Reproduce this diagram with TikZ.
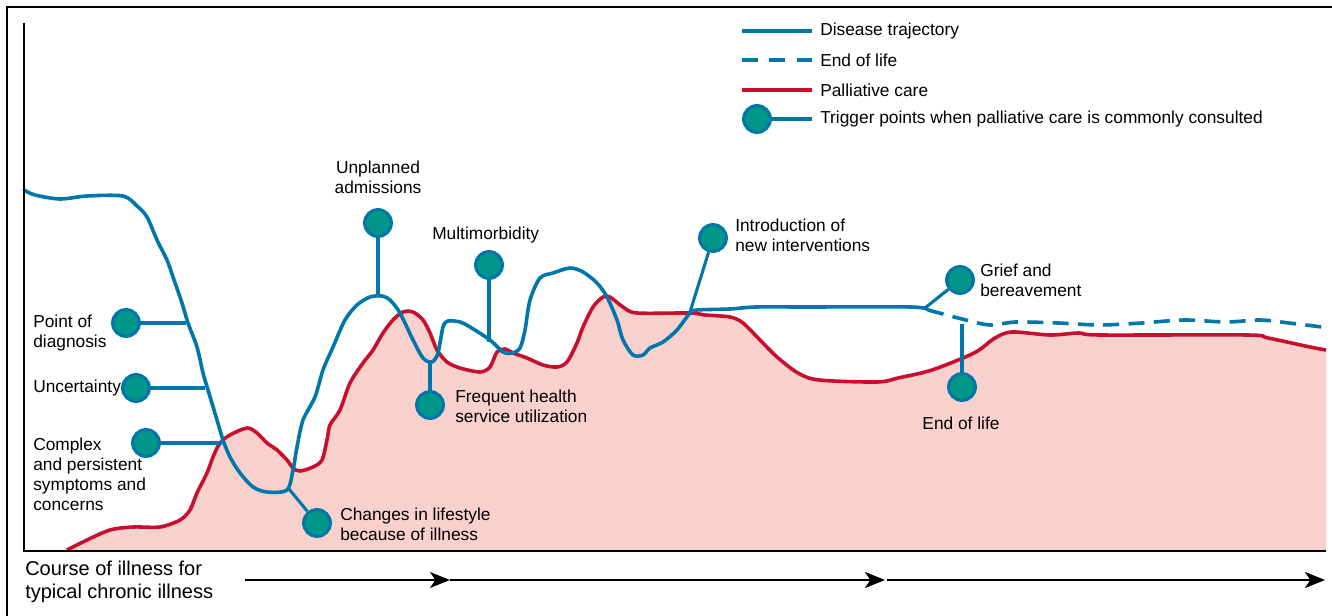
\documentclass[tikz,border=0pt]{standalone}
\usepackage{fontspec}
\setmainfont{Liberation Sans}
\usetikzlibrary{arrows.meta,calc}
\definecolor{trajblue}{RGB}{0,119,170}
\definecolor{trigteal}{RGB}{0,150,136}
\definecolor{palred}{RGB}{200,16,46}
\definecolor{palpink}{RGB}{248,209,205}
\begin{document}
\begin{tikzpicture}[x=0.75pt,y=-0.75pt,
    every node/.style={inner sep=0pt},
    lbl/.style={font=\fontsize{13}{15}\selectfont, align=left},
    course/.style={font=\fontsize{15}{17.3}\selectfont, align=left},
    traj/.style={trajblue, line width=2.7pt, line cap=round, line join=round},
    eol/.style={trajblue, line width=2.7pt, dash pattern=on 12pt off 7pt},
    pal/.style={palred, line width=2.7pt, line join=round},
    trig/.style={circle, draw=trajblue, fill=trigteal, line width=2.4pt, minimum size=20pt},
    stem/.style={trajblue, line width=2.3pt},
    axarrow/.style={black, line width=1.5pt, -{Stealth[length=15pt,width=12pt,inset=4pt]}}]
\useasboundingbox (0,0) rectangle (1332,616);
% frame and palliative care area
\draw [black, line width=1.1pt] (7,616) -- (7,7) -- (1332,7);
\fill [palpink] plot [smooth] coordinates {(67,550) (87,540) (110,530) (133,527) (160,527) (180,520) (190,510) (197,493) (207,473) (213,457) (220,443) (230,435) (247,428) (257,433) (267,443) (277,450) (287,460) (293,468) (300,471) (313,467) (322,460) (327,440) (330,425) (340,410) (350,383) (363,363) (373,350) (383,333) (393,320) (403,312) (413,312) (423,320) (430,333) (437,350) (447,362) (460,368) (480,372) (490,367) (497,352) (505,349) (513,353) (527,358) (543,365) (557,367) (567,362) (577,343) (583,327) (593,307) (603,297) (610,297) (623,307) (637,313) (690,313) (705,315) (730,317) (743,323) (760,340) (777,357) (798,373) (819,380) (877,382) (898,378) (932,370) (974,353) (995,338) (1012,332) (1050,335) (1079,333) (1100,335) (1247,335) (1268,338) (1310,347) (1326,350)} -- (1326,551) -- (67,551) -- cycle;
\draw [pal] plot [smooth] coordinates {(67,550) (87,540) (110,530) (133,527) (160,527) (180,520) (190,510) (197,493) (207,473) (213,457) (220,443) (230,435) (247,428) (257,433) (267,443) (277,450) (287,460) (293,468) (300,471) (313,467) (322,460) (327,440) (330,425) (340,410) (350,383) (363,363) (373,350) (383,333) (393,320) (403,312) (413,312) (423,320) (430,333) (437,350) (447,362) (460,368) (480,372) (490,367) (497,352) (505,349) (513,353) (527,358) (543,365) (557,367) (567,362) (577,343) (583,327) (593,307) (603,297) (610,297) (623,307) (637,313) (690,313) (705,315) (730,317) (743,323) (760,340) (777,357) (798,373) (819,380) (877,382) (898,378) (932,370) (974,353) (995,338) (1012,332) (1050,335) (1079,333) (1100,335) (1247,335) (1268,338) (1310,347) (1326,350)};
% disease trajectory
\draw [traj] plot [smooth] coordinates {(24,190) (35,195) (60,199) (87,196) (123,196) (137,206) (147,217) (157,240) (167,260) (173,277) (182,303) (188,323) (197,347) (203,373) (208,390) (217,420) (223,440) (230,457) (240,473) (253,487) (267,492) (287,490) (293,470) (297,447) (303,420) (315,397) (323,370) (333,347) (345,320) (357,305) (370,297) (382,296) (390,300) (400,313) (413,340) (423,358) (432,362) (438,353) (443,327) (448,321) (460,322) (470,327) (490,340) (503,352) (512,353) (520,348) (525,330) (530,300) (540,278) (553,273) (570,268) (583,272) (597,283) (607,297) (617,320) (623,340) (633,355) (643,355) (650,348) (663,342) (677,330) (690,313) (697,310) (730,309) (756,307) (806,307) (911,307) (928,310)};
\draw [eol] plot [smooth] coordinates {(928,310) (966,320) (990,325) (1016,322) (1058,323) (1100,325) (1142,323) (1184,320) (1226,322) (1260,320) (1289,323) (1322,327)};
% axes
\draw [black, line width=1.5pt] (24,23) -- (24,551) -- (1326,551);
% trigger points
\coordinate (diagEnd) at (186,323);
\coordinate (uncEnd) at (205,388);
\coordinate (complEnd) at (222,443);
\coordinate (lifeEnd) at (289,489);
\coordinate (unplEnd) at (378,296);
\coordinate (freqEnd) at (430,362);
\coordinate (multiEnd) at (489,342);
\coordinate (introEnd) at (690,312);
\coordinate (griefEnd) at (925,308);
\coordinate (eolEnd) at (962,324);
\node [trig] (diag) at (126,323) {};
\node [trig] (unc) at (136,388) {};
\node [trig] (compl) at (146,443) {};
\node [trig] (life) at (317,523) {};
\node [trig] (unpl) at (378,223) {};
\node [trig] (freq) at (430,405) {};
\node [trig] (multi) at (489,265) {};
\node [trig] (intro) at (713,238) {};
\node [trig] (grief) at (960,280) {};
\node [trig] (eolpt) at (962,387) {};
\draw [stem] (diag) -- (diagEnd);
\draw [stem] (unc) -- (uncEnd);
\draw [stem] (compl) -- (complEnd);
\draw [stem] (life) -- (lifeEnd);
\draw [stem] (unpl) -- (unplEnd);
\draw [stem] (freq) -- (freqEnd);
\draw [stem] (multi) -- (multiEnd);
\draw [stem] (intro) -- (introEnd);
\draw [stem] (grief) -- (griefEnd);
\draw [stem] (eolpt) -- (eolEnd);
\node [lbl, anchor=west] (diagTxt) at (33,333) {Point of\\diagnosis};
\node [lbl, anchor=west] (uncTxt) at (33,388) {Uncertainty};
\node [lbl, anchor=west] (complTxt) at (33,474) {Complex\\and persistent\\symptoms and\\concerns};
\node [lbl, anchor=west] (lifeTxt) at (340,524) {Changes in lifestyle\\because of illness};
\node [lbl, align=center] (unplTxt) at (378,177) {Unplanned\\admissions};
\node [lbl, anchor=west] (freqTxt) at (455,406) {Frequent health\\service utilization};
\node [lbl, anchor=west] (multiTxt) at (432,235) {Multimorbidity};
\node [lbl, anchor=west] (introTxt) at (735,235) {Introduction of\\new interventions};
\node [lbl, anchor=west] (griefTxt) at (980,280) {Grief and\\bereavement};
\node [lbl] (eolTxt) at (961,423) {End of life};
% legend
\node [lbl, anchor=west] (lgTraj) at (820,31) {Disease trajectory};
\node [lbl, anchor=west] (lgEol) at (820,60) {End of life};
\node [lbl, anchor=west] (lgPal) at (820,90) {Palliative care};
\node [lbl, anchor=west] (lgTrig) at (820,119) {Trigger points when palliative care is commonly consulted};
\draw [traj, line cap=butt] ($(lgTraj.west)+(-78,0)$) -- ($(lgTraj.west)+(-8,0)$);
\draw [trajblue, line width=2.7pt, dash pattern=on 12pt off 8.5pt] ($(lgEol.west)+(-78,0)$) -- ($(lgEol.west)+(-8,0)$);
\draw [pal] ($(lgPal.west)+(-78,0)$) -- ($(lgPal.west)+(-8,0)$);
\node [trig] (lgDot) at ($(lgTrig.west)+(-63,0)$) {};
\draw [stem, line width=2.7pt] (lgDot) -- ($(lgTrig.west)+(-8,0)$);
% course of illness
\node [course, anchor=west] (courseTxt) at (25,582) {Course of illness for\\typical chronic illness};
\coordinate (ar0) at (245,580);
\coordinate (ar1) at (450,580);
\coordinate (ar2) at (885,580);
\coordinate (ar3) at (887,580);
\coordinate (ar4) at (1325,580);
\draw [axarrow] (ar0) -- (ar1);
\draw [axarrow] (ar1) -- (ar2);
\draw [axarrow] (ar3) -- (ar4);
\end{tikzpicture}
\end{document}
